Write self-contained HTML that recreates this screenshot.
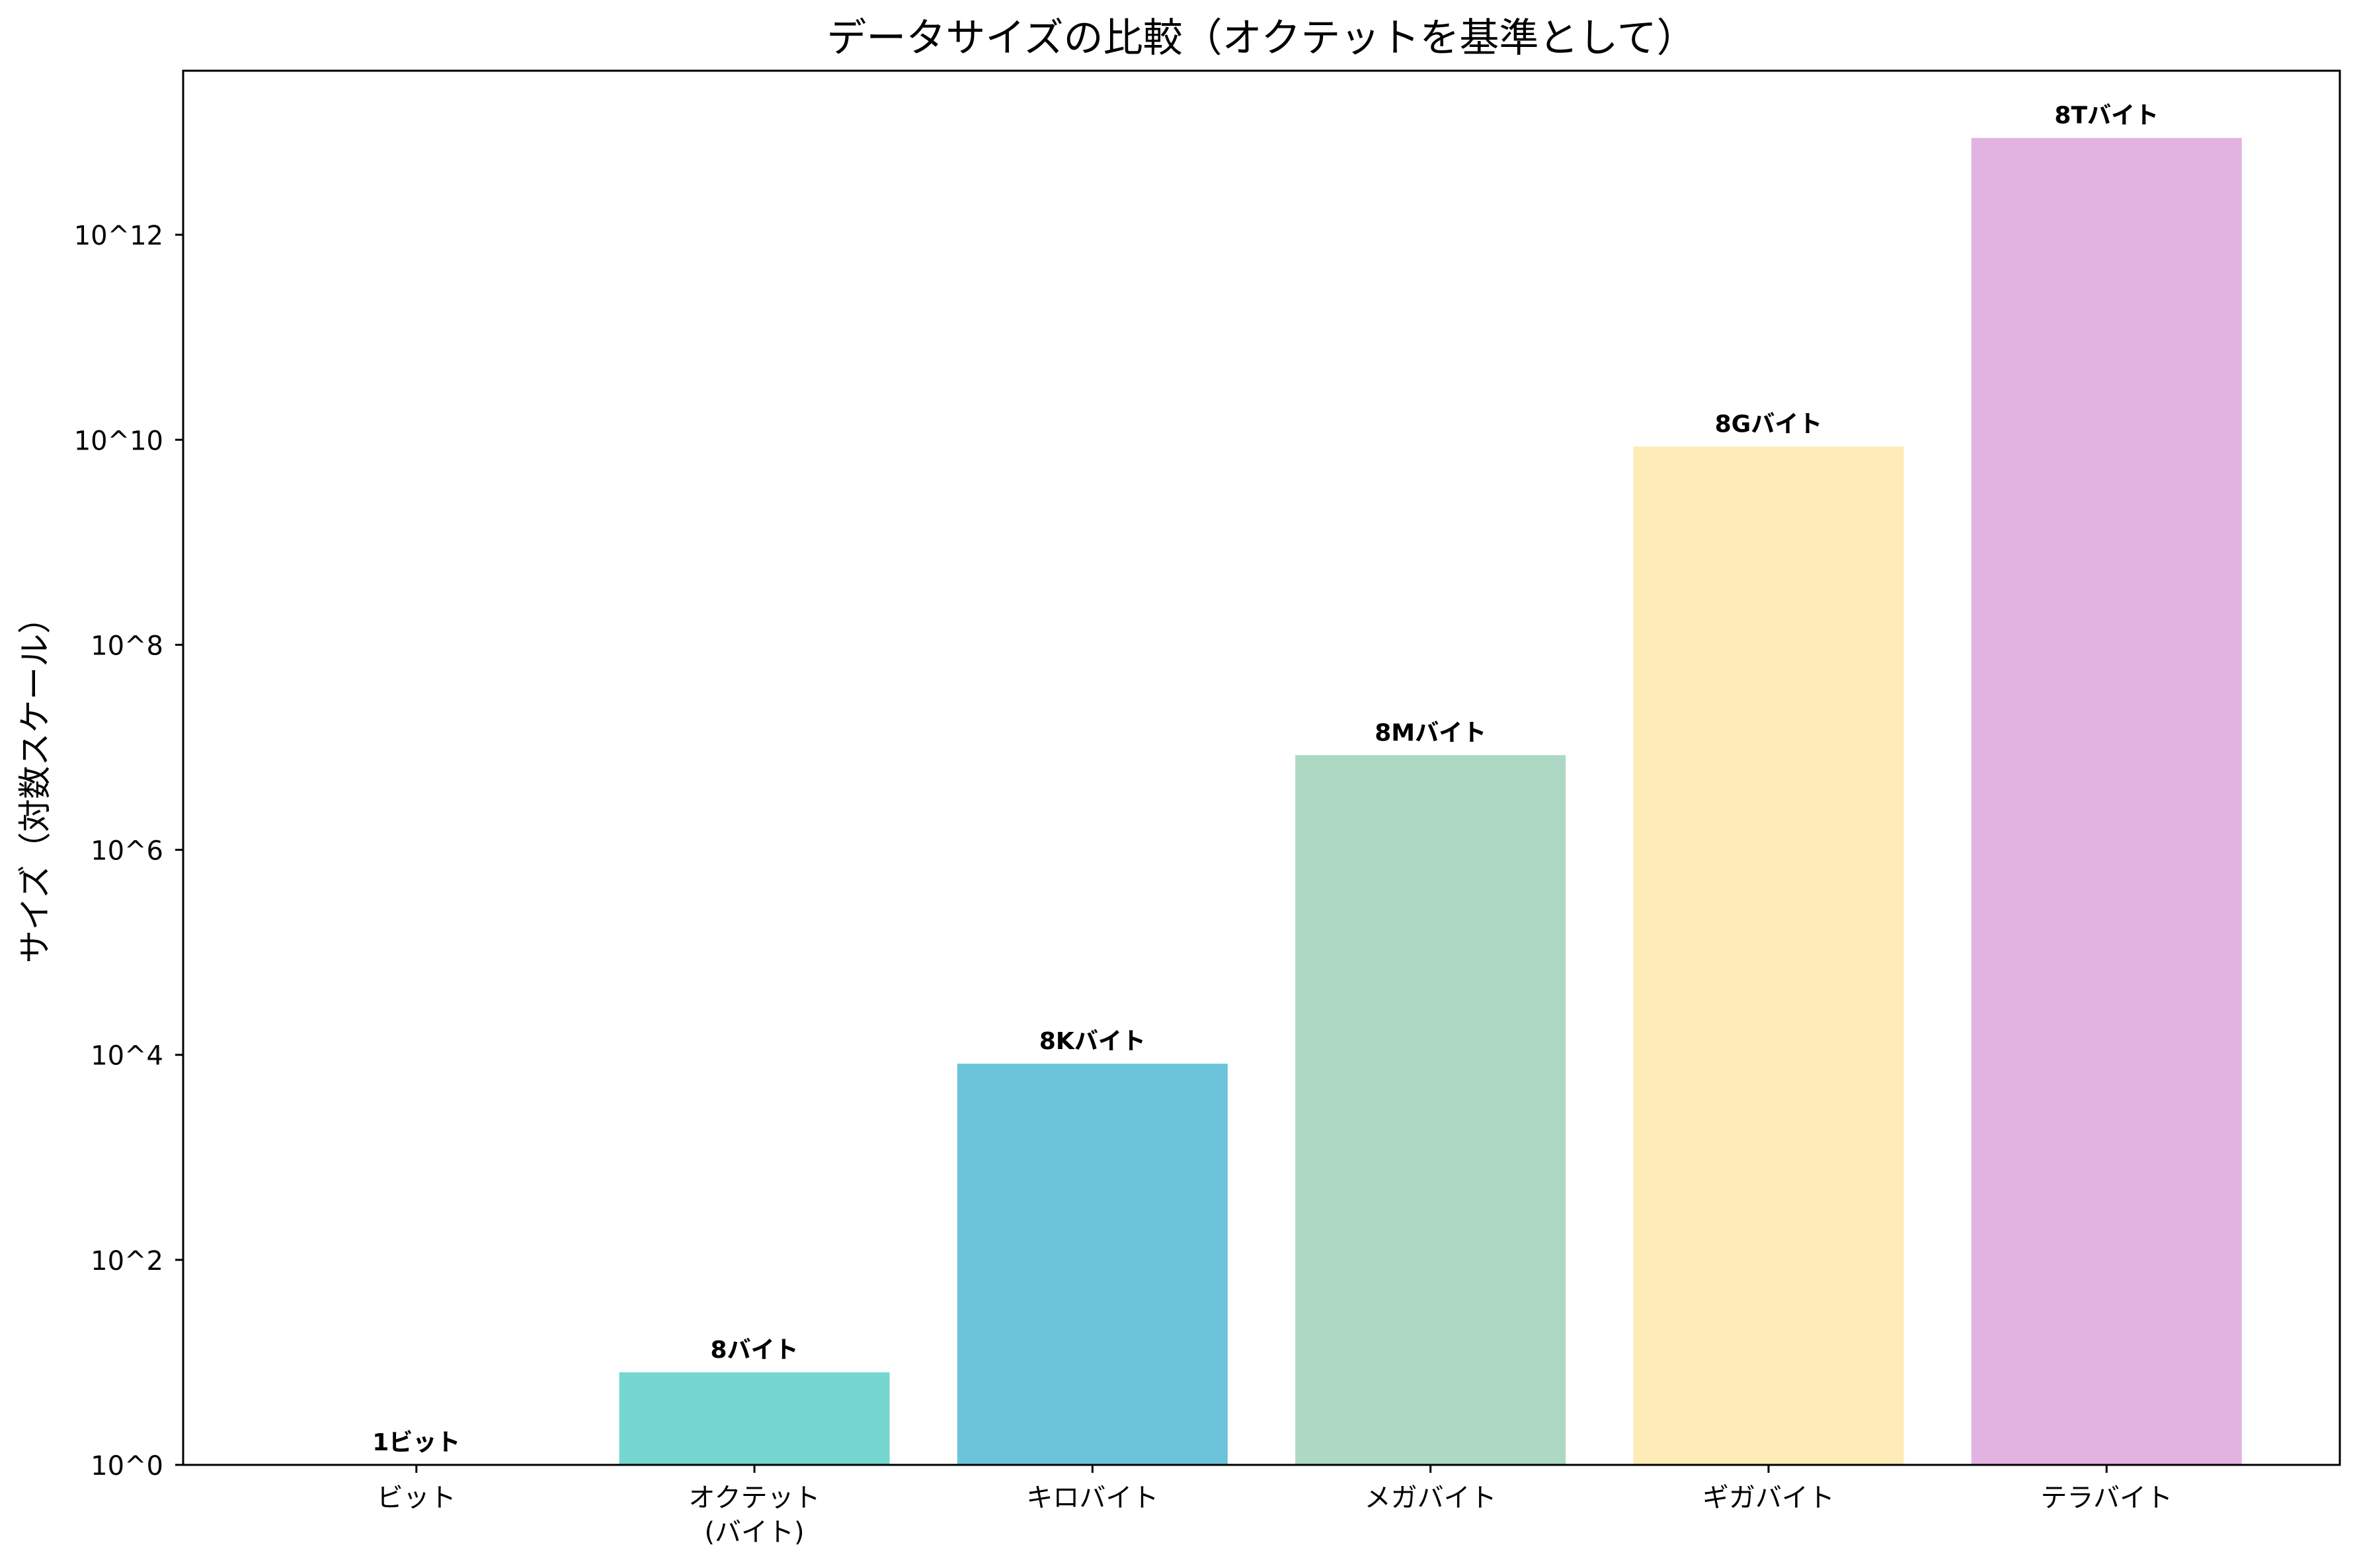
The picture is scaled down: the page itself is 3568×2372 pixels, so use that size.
<!DOCTYPE html>
<html lang="ja">
<head>
<meta charset="utf-8">
<style>
html,body{margin:0;padding:0;background:#fff;}
svg{display:block;}
text{font-family:"DejaVu Sans","Liberation Sans","Noto Sans CJK JP",sans-serif;fill:#000;}
</style>
</head>
<body>
<svg id="chart" width="3568" height="2372" viewBox="0 0 3568 2372" xmlns="http://www.w3.org/2000/svg">
  <rect x="0" y="0" width="3568" height="2372" fill="#fff"/>
  <text x="1908" y="78" font-size="60" text-anchor="middle">データサイズの比較（オクテットを基準として）</text>
  <text transform="translate(70,1183) rotate(-90)" font-size="50" text-anchor="middle">サイズ（対数スケール）</text>
  <g id="bars"></g>
  <g id="yticks"></g>
  <g id="xticks"></g>
  <rect x="277" y="107" width="3262" height="2109" fill="none" stroke="#000" stroke-width="3"/>
</svg>
<script>
const categories = ["ビット", "オクテット\n(バイト)", "キロバイト", "メガバイト", "ギガバイト", "テラバイト"];
const values = [1, 8, 8192, 8388608, 8589934592, 8796093022208];
const valueLabels = ["1ビット", "8バイト", "8Kバイト", "8Mバイト", "8Gバイト", "8Tバイト"];
const barColors = ["#d9d9d9", "#76d7d0", "#6bc4d9", "#acd8c4", "#feecb8", "#e2b3e1"];
const yTickExps = [0, 2, 4, 6, 8, 10, 12];
const yTickLabels = ["10^0", "10^2", "10^4", "10^6", "10^8", "10^10", "10^12"];

const NS = "http://www.w3.org/2000/svg";
const L = 277, R = 3539, T = 107, B = 2216;
const xMin = -0.69, xMax = 5.69, yMinExp = 0, yMaxExp = 13.6;
function xs(v){ return L + (v - xMin) / (xMax - xMin) * (R - L); }
function ys(v){ return B - (Math.log10(v) - yMinExp) / (yMaxExp - yMinExp) * (B - T); }
const barW = 0.8;

const gb = document.getElementById("bars");
values.forEach((v, i) => {
  const x0 = xs(i - barW/2), x1 = xs(i + barW/2), y = ys(v);
  const r = document.createElementNS(NS, "rect");
  r.setAttribute("x", x0); r.setAttribute("y", y);
  r.setAttribute("width", x1 - x0); r.setAttribute("height", Math.max(0, B - y));
  r.setAttribute("fill", barColors[i]);
  
  
  gb.appendChild(r);
  const t = document.createElementNS(NS, "text");
  t.setAttribute("x", xs(i)); t.setAttribute("y", y - 22);
  t.setAttribute("font-size", "36"); t.setAttribute("font-weight", "bold");
  t.setAttribute("text-anchor", "middle");
  t.textContent = valueLabels[i];
  
  
  gb.appendChild(t);
});

const gy = document.getElementById("yticks");
yTickExps.forEach((e, i) => {
  const y = ys(Math.pow(10, e));
  const l = document.createElementNS(NS, "line");
  l.setAttribute("x1", L - 12); l.setAttribute("x2", L); l.setAttribute("y1", y); l.setAttribute("y2", y);
  l.setAttribute("stroke", "#000"); l.setAttribute("stroke-width", "3");
  
  
  gy.appendChild(l);
  const t = document.createElementNS(NS, "text");
  t.setAttribute("x", L - 30); t.setAttribute("y", y + 15);
  t.setAttribute("font-size", "40"); t.setAttribute("text-anchor", "end");
  t.textContent = yTickLabels[i];
  
  
  gy.appendChild(t);
});

const gx = document.getElementById("xticks");
categories.forEach((c, i) => {
  const x = xs(i);
  const l = document.createElementNS(NS, "line");
  l.setAttribute("x1", x); l.setAttribute("x2", x); l.setAttribute("y1", B); l.setAttribute("y2", B + 12);
  l.setAttribute("stroke", "#000"); l.setAttribute("stroke-width", "3");
  
  
  gx.appendChild(l);
  c.split("\n").forEach((line, j) => {
    const t = document.createElementNS(NS, "text");
    t.setAttribute("x", x); t.setAttribute("y", B + 63 + j * 52);
    t.setAttribute("font-size", "40"); t.setAttribute("text-anchor", "middle");
    t.textContent = line;
    
    
    gx.appendChild(t);
  });
});
</script>
</body>
</html>
